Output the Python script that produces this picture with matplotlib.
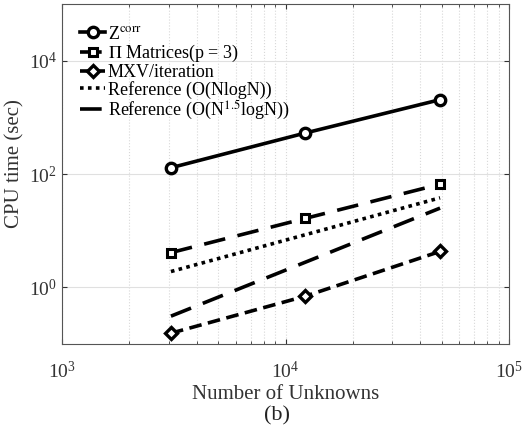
import numpy as np
import matplotlib.pyplot as plt

plt.rcParams['font.family'] = ['Liberation Serif', 'DejaVu Serif']
plt.rcParams['mathtext.fontset'] = 'stix'

# unknowns
N = [3072, 12288, 49152]

# CPU times (sec)
z_corr = [129, 530, 2050]
pi_mat = [4.1, 16.5, 66]
mxv = [0.155, 0.70, 4.3]

# reference slopes (end points)
ref_nlogn = [1.9, 38]
ref_n15 = [0.31, 25]
ref_x = [N[0], N[-1]]

fig = plt.figure(figsize=(5.22, 4.4), dpi=100)
ax = fig.add_axes([62 / 522, 1 - 344 / 440, 447 / 522, 340 / 440])

lw = 2.6
ax.loglog(N, z_corr, '-', color='black', lw=lw, marker='o', ms=7.5,
          mfc='white', mew=2.4, label=r'Z$^{\rm corr}$')
ax.loglog(N, pi_mat, color='black', lw=lw, ls=(0, (6, 3.5)), marker='s', ms=6,
          mfc='white', mew=2.2, label=r'$\Pi$ Matrices(p = 3)')
ax.loglog(N, mxv, color='black', lw=lw, ls=(0, (3.5, 1.8)), marker='D', ms=6,
          mfc='white', mew=2.4, label='MXV/iteration')
ax.loglog(ref_x, ref_nlogn, color='black', lw=lw, ls=(0, (1, 1.2)),
          label='Reference (O(NlogN))')
ax.loglog(ref_x, ref_n15, color='black', lw=lw, ls=(0, (6, 3.5)),
          label=r'Reference (O(N$^{1.5}$logN))')

ax.set_xlim(1e3, 1e5)
ax.set_ylim(1e-1, 1e5)
ax.set_yticks([1e0, 1e2, 1e4])
ax.yaxis.set_minor_locator(plt.NullLocator())

ax.grid(True, which='major', axis='y', color='#e0e0e0', lw=0.8, ls='-')
ax.grid(True, which='major', axis='x', color='#d8d8d8', lw=0.8, ls=':')
ax.grid(True, which='minor', axis='x', color='#d8d8d8', lw=0.8, ls=':')
ax.tick_params(which='both', direction='in', top=True, right=True,
               labelsize=14, colors='#333333', labelcolor='#333333')
ax.tick_params(axis='x', pad=12)
for s in ax.spines.values():
    s.set_color('#555555')

ax.set_xlabel('Number of Unknowns', fontsize=15, color='#333333', labelpad=2)
ax.set_ylabel('CPU time (sec)', fontsize=15, color='#333333')
ax.yaxis.set_label_coords(-0.085, 0.53)

ax.legend(loc='upper left', frameon=False, fontsize=13, handlelength=1.4,
          handletextpad=0.15, labelspacing=0.0, borderaxespad=0.0,
          borderpad=0.0, bbox_to_anchor=(0.04, 0.936))

fig.text(0.531, 0.054, '(b)', ha='center', va='center', fontsize=16,
         color='#222222')

fig.savefig('out.png', dpi=100)
